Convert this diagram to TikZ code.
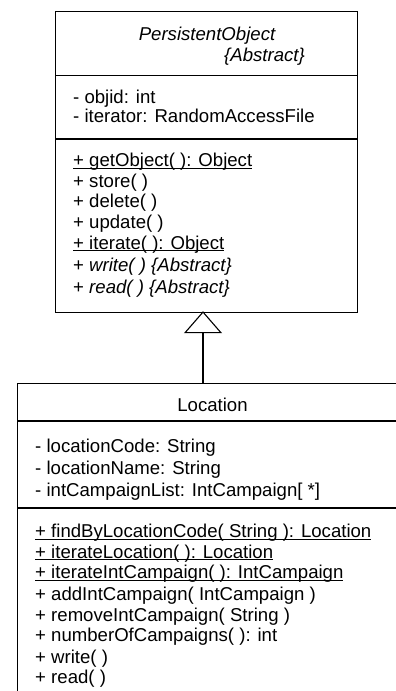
\documentclass[tikz,border=0pt]{standalone}
\usepackage{fontspec}
\setmainfont{Liberation Sans}
\usetikzlibrary{arrows.meta}
% underlined (class-scope) operation
\newcommand\clsop[1]{\setbox0=\hbox{#1}\rlap{\rule[-2.3pt]{\wd0}{0.9pt}}\box0}
\begin{document}
\begin{tikzpicture}[x=1pt,y=-1pt,
  classbox/.style={draw, line width=1.2pt, rectangle, inner sep=0pt, anchor=north west},
  divider/.style={line width=1.2pt},
  member/.style={anchor=base west, inner sep=0pt, font=\fontsize{18.6}{22}\selectfont},
  title/.style={anchor=base, inner sep=0pt, font=\fontsize{18.6}{22}\selectfont},
  gen/.style={line width=1.1pt, -{Triangle[open, length=22pt, width=38pt, line width=1.1pt]}}]
\useasboundingbox (0,0) rectangle (396,691);
\clip (0,0) rectangle (396,691);

% ---- PersistentObject ----
\node[classbox, minimum width=302pt, minimum height=300.5pt] (po) at (55,11) {};
\draw[divider] (po.west |- 0,75.5) -- (po.east |- 0,75.5);
\draw[divider] (po.west |- 0,139) -- (po.east |- 0,139);
\node[title] (poname) at (207,40) {\itshape PersistentObject};
\node[member] (poabs) at (224,61) {\itshape \{Abstract\}};
\node[member] (a1) at (73,103) {- objid: int};
\node[member] (a2) at (73,122.5) {- iterator: RandomAccessFile};
\node[member] (m1) at (73,166.5) {\clsop{+ getObject( ): Object}};
\node[member] (m2) at (73,187) {+ store( )};
\node[member] (m3) at (73,207.5) {+ delete( )};
\node[member] (m4) at (73,228) {+ update( )};
\node[member] (m5) at (73,249) {\clsop{+ iterate( ): Object}};
\node[member] (m6) at (73,271.5) {+ \textit{write( ) \{Abstract\}}};
\node[member] (m7) at (73,293) {+ \textit{read( ) \{Abstract\}}};

% ---- Location ----
\node[classbox, minimum width=391pt, minimum height=340pt] (loc) at (17,382.5) {};
\draw[divider] (loc.west |- 0,421) -- (loc.east |- 0,421);
\draw[divider] (loc.west |- 0,508) -- (loc.east |- 0,508);
\node[title] (locname) at (212.5,411) {Location};
\node[member] (b1) at (35,452.5) {- locationCode: String};
\node[member] (b2) at (35,474.5) {- locationName: String};
\node[member] (b3) at (35,496) {- intCampaignList: IntCampaign[ *]};
\node[member] (n1) at (35,537.5) {\clsop{+ findByLocationCode( String ): Location}};
\node[member] (n2) at (35,558) {\clsop{+ iterateLocation( ): Location}};
\node[member] (n3) at (35,578.5) {\clsop{+ iterateIntCampaign( ): IntCampaign}};
\node[member] (n4) at (35,600.5) {+ addIntCampaign( IntCampaign )};
\node[member] (n5) at (35,621.5) {+ removeIntCampaign( String )};
\node[member] (n6) at (35,641.5) {+ numberOfCampaigns( ): int};
\node[member] (n7) at (35,663) {+ write( )};
\node[member] (n8) at (35,683.5) {+ read( )};

% ---- generalization ----
\coordinate (gx) at (203,0);
\draw[gen] (loc.north -| gx) -- ([yshift=1.5pt]po.south -| gx);
\end{tikzpicture}
\end{document}
